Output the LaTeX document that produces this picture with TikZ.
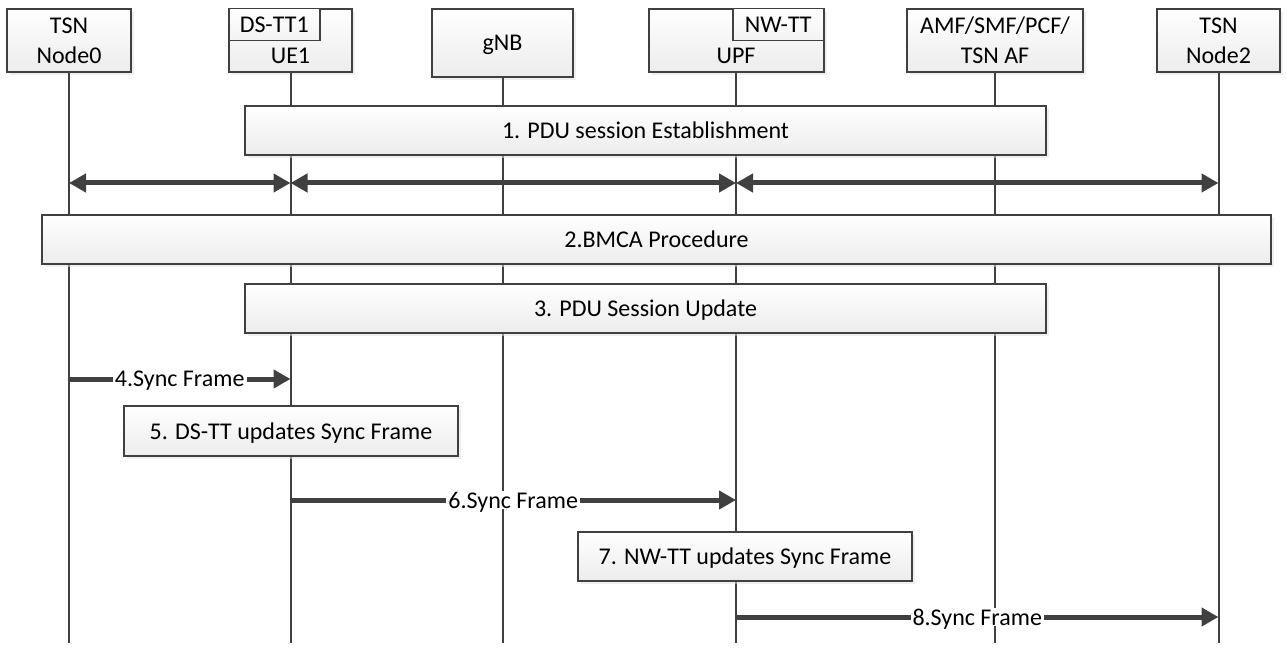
\documentclass[tikz,border=0pt]{standalone}
\usepackage{fontspec}
\setmainfont{Carlito}
\usepackage{tikz}
\usetikzlibrary{
  positioning,
  arrows.meta,
  shadows
}
\definecolor{linegray}{RGB}{64,64,64}
\tikzset{
  >={Triangle[length=17pt,width=18pt]},
  every node/.style={font=\fontsize{24}{30}\selectfont},
  box/.style={draw=linegray, line width=2pt, top color=white, bottom color=gray!15,
    drop shadow={shadow xshift=3pt, shadow yshift=-3pt, fill=black!12},
    align=center, inner sep=0pt, text depth=0pt},
  tag/.style={draw=linegray, line width=1.5pt, top color=white, bottom color=gray!10,
    minimum width=91pt, minimum height=32pt, inner sep=0pt, text depth=0pt},
  life/.style={draw=linegray, line width=2pt},
  msg/.style={draw=linegray, line width=5pt, ->},
  duplex/.style={msg, <->},
  lbl/.style={fill=white, inner xsep=2pt, inner ysep=1pt, text depth=0pt}
}

\begin{document}
\begin{tikzpicture}[x=1pt, y=-1pt]
    \useasboundingbox (0,0) rectangle (1287,655);
    \node[box, minimum width=124pt, minimum height=63pt] (tsn0) at (69,40.5) {TSN\\Node0};
    \node[box, minimum width=123pt, minimum height=63pt] (ue1) at (290.5,40.5) {\vphantom{D}\\UE1};
    \node[tag, anchor=north west] (dstt) at (ue1.north west) {DS-TT1};
    \node[box, minimum width=141pt, minimum height=68pt] (gnb) at (502.5,43) {gNB};
    \node[box, minimum width=175pt, minimum height=63pt] (upf) at (736,40.5) {\vphantom{N}\\UPF};
    \node[tag, anchor=north east] (nwtt) at (upf.north east) {NW-TT};
    \node[box, minimum width=176pt, minimum height=63pt] (amf) at (995,40.5) {AMF/SMF/PCF/\\TSN AF};
    \node[box, minimum width=123pt, minimum height=63pt] (tsn2) at (1218.5,40.5) {TSN\\Node2};
    \coordinate (bot) at (0,643);
    \foreach \n in {tsn0,ue1,gnb,upf,amf,tsn2}
        \draw[life] (\n.south) -- (\n.south |- bot);
    \node[box, minimum width=801pt, minimum height=49pt] (pdu) at (645.5,130.5) {1. PDU session Establishment};
    \coordinate (r1) at (0,183);
    \draw[duplex] (tsn0 |- r1) -- (ue1 |- r1);
    \draw[duplex] (ue1 |- r1) -- (upf |- r1);
    \draw[duplex] (upf |- r1) -- (tsn2 |- r1);
    \node[box, minimum width=1229pt, minimum height=49pt] (bmca) at (656.5,239.5) {2.BMCA Procedure};
    \node[box, minimum width=801pt, minimum height=49pt] (upd) at (645.5,308.5) {3. PDU Session Update};
    \coordinate (r4) at (0,379);
    \draw[msg] (tsn0 |- r4) -- node[lbl] {4.Sync Frame} (ue1 |- r4);
    \node[box, minimum width=334pt, minimum height=50pt] (dsup) at (291,431) {5. DS-TT updates Sync Frame};
    \coordinate (r6) at (0,500);
    \draw[msg] (ue1 |- r6) -- node[lbl] {6.Sync Frame} (upf |- r6);
    \node[box, minimum width=334pt, minimum height=49pt] (nwup) at (745,556.5) {7. NW-TT updates Sync Frame};
    \coordinate (r8) at (0,617);
    \draw[msg] (upf |- r8) -- node[lbl] {8.Sync Frame} (tsn2 |- r8);
\end{tikzpicture}
\end{document}
